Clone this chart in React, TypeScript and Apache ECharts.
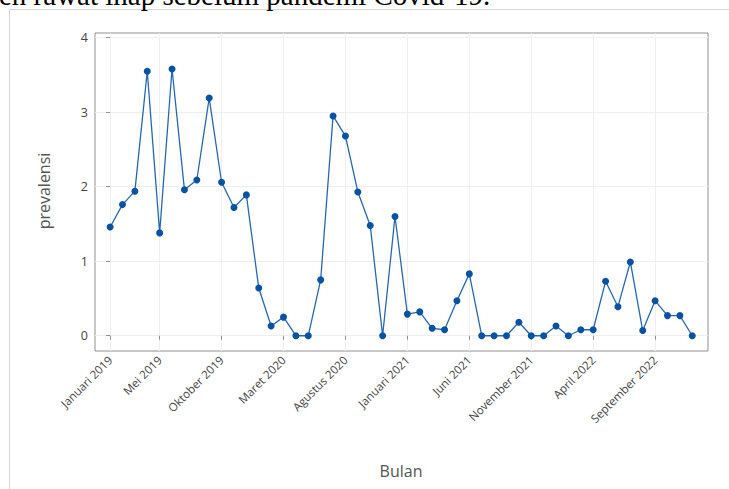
import React, { useEffect, useRef } from "react";
import * as echarts from "echarts";

const monthNames = [
  "Januari", "Februari", "Maret", "April", "Mei", "Juni",
  "Juli", "Agustus", "September", "Oktober", "November", "Desember",
];
const years = [2019, 2020, 2021, 2022];
const months: string[] = years.flatMap((y) => monthNames.map((m) => `${m} ${y}`));

const prevalensi = [
  1.46, 1.76, 1.94, 3.55, 1.38, 3.58, 1.96, 2.09, 3.19, 2.06, 1.72, 1.89,
  0.64, 0.13, 0.25, 0.0, 0.0, 0.75, 2.95, 2.68, 1.93, 1.48, 0.0, 1.6,
  0.29, 0.32, 0.1, 0.08, 0.47, 0.83, 0.0, 0.0, 0.0, 0.18, 0.0, 0.0,
  0.13, 0.0, 0.08, 0.08, 0.73, 0.39, 0.99, 0.07, 0.47, 0.27, 0.27, 0.0,
];

const xBreaks = [0, 4, 9, 14, 19, 24, 29, 34, 39, 44];
const yBreaks = [0, 1, 2, 3, 4];

export default function App() {
  const ref = useRef<HTMLDivElement>(null);
  useEffect(() => {
    if (!ref.current) return;
    const chart = echarts.init(ref.current, null, { renderer: "svg" });
    const textColor = "#444444";
    chart.setOption({
      animation: false,
      backgroundColor: "#ffffff",
      grid: {
        left: 95,
        right: 21,
        top: 33,
        bottom: 138,
        show: true,
        borderColor: "#8f8f8f",
        borderWidth: 1,
        backgroundColor: "transparent",
      },
      xAxis: {
        type: "value",
        min: -1.22,
        max: 48.27,
        axisLine: { show: false },
        axisTick: {
          show: true,
          length: 4,
          customValues: xBreaks,
          lineStyle: { color: "#8f8f8f" },
        },
        axisLabel: {
          customValues: xBreaks,
          rotate: 45,
          margin: 7,
          fontSize: 11.5,
          fontFamily: "Open Sans",
          color: textColor,
          formatter: (v: number) => months[Math.round(v)] ?? "",
        },
        splitLine: { show: true, lineStyle: { color: "#efefef", width: 1 } },
      },
      yAxis: {
        type: "value",
        min: -0.205,
        max: 4.063,
        axisLine: { show: false },
        axisTick: {
          show: true,
          length: 4,
          customValues: yBreaks,
          lineStyle: { color: "#8f8f8f" },
        },
        axisLabel: {
          customValues: yBreaks,
          margin: 7,
          fontSize: 12.5,
          fontFamily: "Open Sans",
          color: textColor,
        },
        splitLine: { show: true, lineStyle: { color: "#efefef", width: 1 } },
      },
      series: [
        {
          type: "line",
          data: prevalensi.map((v, i) => [i, v]),
          symbol: "circle",
          symbolSize: 7,
          lineStyle: { color: "#2468b4", width: 1.3 },
          itemStyle: { color: "#0652a5" },
          z: 3,
        },
      ],
      graphic: [
        {
          type: "rect",
          shape: { x: 9.5, y: 9.5, width: 800, height: 600 },
          style: { fill: "none", stroke: "#d6d6d6", lineWidth: 1 },
          silent: true,
          z: -1,
        },
        {
          type: "text",
          x: -1,
          y: -4.8,
          style: {
            text: "en rawat inap sebelum pandemi Covid-19.",
            fontSize: 29,
            fontFamily: "Liberation Serif",
            fill: "#000000",
            align: "left",
            verticalAlign: "middle",
          },
        },
        {
          type: "text",
          x: 44,
          y: 191,
          rotation: Math.PI / 2,
          style: {
            text: "prevalensi",
            fontSize: 16,
            fontFamily: "Open Sans",
            fill: "#555555",
            align: "center",
            verticalAlign: "middle",
          },
        },
        {
          type: "text",
          x: 401,
          y: 471,
          style: {
            text: "Bulan",
            fontSize: 16,
            fontFamily: "Open Sans",
            fill: "#555555",
            align: "center",
            verticalAlign: "middle",
          },
        },
      ],
    });
    return () => chart.dispose();
  }, []);
  return (
    <div
      ref={ref}
      style={{ position: "absolute", left: 0, top: 0, width: 729, height: 489 }}
    />
  );
}
